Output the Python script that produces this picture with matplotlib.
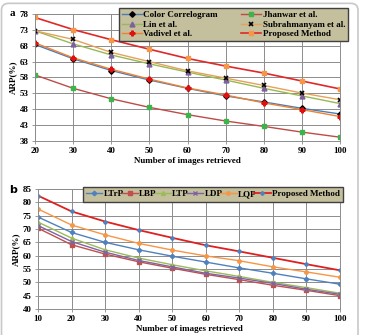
import matplotlib.pyplot as plt
from matplotlib.patches import FancyBboxPatch

# panel a data
x_a = [20, 30, 40, 50, 60, 70, 80, 90, 100]
color_correlogram = [68.4, 63.9, 60.2, 57.2, 54.6, 52.2, 50.3, 48.3, 46.5]
jhanwar = [58.8, 54.6, 51.3, 48.6, 46.3, 44.3, 42.6, 40.8, 39.2]
lin = [72.7, 68.6, 65.1, 62.3, 59.7, 57.2, 54.6, 52.2, 49.8]
subrahmanyam = [72.7, 70.0, 65.9, 63.0, 60.1, 57.8, 55.5, 53.1, 51.0]
vadivel = [68.9, 64.2, 60.6, 57.5, 54.7, 52.5, 50.0, 47.9, 45.7]
proposed_a = [76.9, 73.1, 69.9, 66.9, 64.0, 61.6, 59.4, 56.9, 54.4]

# panel b data
x_b = [10, 20, 30, 40, 50, 60, 70, 80, 90, 100]
ltrp = [74.5, 68.7, 65.0, 62.2, 59.8, 57.6, 55.4, 53.4, 51.3, 49.3]
lbp = [70.3, 64.1, 60.6, 57.7, 55.3, 53.0, 51.0, 48.9, 47.0, 45.0]
ltp = [72.6, 66.6, 62.2, 59.1, 56.6, 54.3, 52.2, 50.0, 48.0, 45.9]
ldp = [71.3, 65.3, 61.3, 58.2, 55.8, 53.4, 51.6, 49.6, 47.4, 45.5]
lqp = [77.5, 71.5, 67.8, 64.6, 62.1, 59.9, 58.1, 55.8, 53.9, 51.9]
proposed_b = [82.5, 76.6, 72.8, 69.6, 66.7, 63.9, 61.6, 59.2, 56.8, 54.5]

plt.rcParams['font.family'] = 'Liberation Serif'
plt.rcParams['font.weight'] = 'bold'

fig = plt.figure(figsize=(3.65, 3.35), dpi=100)
fig.patches.append(FancyBboxPatch((1.5 / 365, -0.05), 356.5 / 365, 1.04,
                                  boxstyle='round,pad=0,rounding_size=0.02',
                                  transform=fig.transFigure, fill=False,
                                  edgecolor='#c8c8c8', linewidth=1.2))

ax1 = fig.add_axes([35 / 365, 1 - 141 / 335, 305 / 365, 127 / 335])
ax2 = fig.add_axes([38 / 365, 1 - 309 / 335, 302 / 365, 120 / 335])


def style(ax, xs, yticks):
    ax.set_xlim(xs[0], xs[-1])
    ax.set_ylim(yticks[0], yticks[-1])
    ax.set_xticks(xs)
    ax.set_yticks(yticks)
    ax.grid(True, color='#8c8c8c', linewidth=0.7)
    ax.set_axisbelow(True)
    for s in ax.spines.values():
        s.set_color('#8c8c8c')
        s.set_linewidth(0.7)
    ax.tick_params(labelsize=6.5, length=2.5, width=0.6, color='#8c8c8c', pad=2)
    for lab in ax.get_xticklabels() + ax.get_yticklabels():
        lab.set_fontweight('bold')
    ax.set_xlabel('Number of images retrieved', fontsize=6.5, fontweight='bold', labelpad=1)
    ax.set_ylabel('ARP(%)', fontsize=6.5, fontweight='bold', labelpad=2)


ms = 3.5
l_cc, = ax1.plot(x_a, color_correlogram, color='#4a7ebb', marker='D', ms=2.8, mfc='black', mec='black', lw=1, label='Color Correlogram')
l_jh, = ax1.plot(x_a, jhanwar, color='#be4b48', marker='s', ms=2.8, mfc='#3cb44b', mec='#3cb44b', lw=1, label='Jhanwar et al.')
l_lin, = ax1.plot(x_a, lin, color='#98b954', marker='^', ms=ms, mfc='#7d60a0', mec='#7d60a0', lw=1, label='Lin et al.')
l_sub, = ax1.plot(x_a, subrahmanyam, color='#e6a15a', marker='x', ms=ms, mfc='black', mec='black', mew=1.2, lw=1, label='Subrahmanyam et al.')
l_vad, = ax1.plot(x_a, vadivel, color='#f0822f', marker='P', ms=ms, mfc='#e01010', mec='#e01010', lw=1, label='Vadivel et al.')
l_pro, = ax1.plot(x_a, proposed_a, color='#e02828', marker='s', ms=2.5, mfc='#f79646', mec='#f79646', lw=1.2, label='Proposed Method')
style(ax1, x_a, list(range(38, 79, 5)))
# legend fills column by column
handles = [l_cc, l_lin, l_vad, l_jh, l_sub, l_pro]
ax1.legend(handles=handles, ncol=2, loc='upper left', bbox_to_anchor=(119 / 365, 1 - 8 / 335, 229 / 365, 0),
           bbox_transform=fig.transFigure, mode='expand', fontsize=6.5, frameon=True,
           facecolor='#c4bf9c', edgecolor='#404040', framealpha=1, fancybox=False,
           borderpad=0.3, labelspacing=0.15, handlelength=2.2, handletextpad=0.2,
           borderaxespad=0, columnspacing=0.5)

ax2.plot(x_b, ltrp, color='#4f81bd', marker='D', ms=2.3, lw=1, label='LTrP')
ax2.plot(x_b, lbp, color='#c0504d', marker='s', ms=2.8, lw=1, label='LBP')
ax2.plot(x_b, ltp, color='#9bbb59', marker='^', ms=2.8, lw=1, label='LTP')
ax2.plot(x_b, ldp, color='#8064a2', marker='x', ms=2.8, lw=1, label='LDP')
ax2.plot(x_b, lqp, color='#f79646', marker='o', ms=2.5, lw=1, label='LQP')
ax2.plot(x_b, proposed_b, color='#e02020', marker='D', ms=2.0, mfc='#4f81bd', mec='#4f81bd', lw=1.3, label='Proposed Method')
style(ax2, x_b, list(range(40, 86, 5)))
ax2.legend(ncol=6, loc='upper left', bbox_to_anchor=(83 / 365, 1 - 187 / 335, 260 / 365, 0),
           bbox_transform=fig.transFigure, mode='expand', fontsize=6.5, frameon=True,
           facecolor='#c4bf9c', edgecolor='#404040', framealpha=1, fancybox=False,
           borderpad=0.35, handlelength=1.8, handletextpad=0.15,
           borderaxespad=0, columnspacing=0.4)

fig.text(12 / 365, 1 - 14 / 335, 'a', fontsize=8, fontweight='bold', ha='center', va='center')
fig.text(13 / 365, 1 - 190 / 335, 'b', fontsize=8, fontweight='bold', ha='center', va='center',
         family='DejaVu Sans')

fig.savefig('out.png', dpi=100)
